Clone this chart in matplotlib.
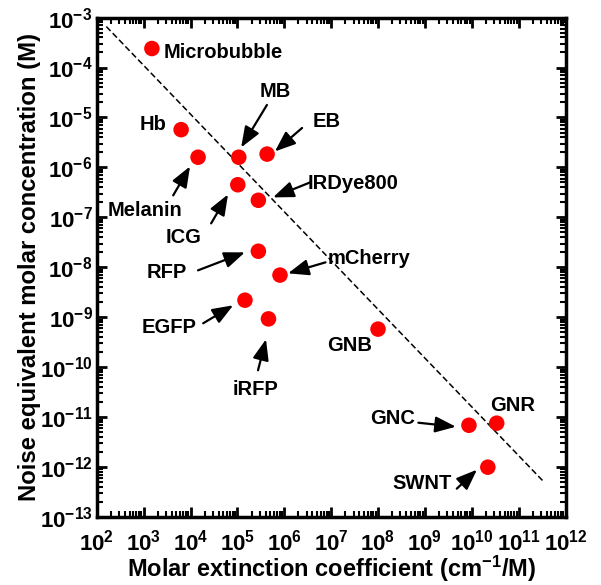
import numpy as np
import matplotlib
matplotlib.use("Agg")
import matplotlib.pyplot as plt
from matplotlib.ticker import LogLocator, FuncFormatter, NullFormatter

plt.rcParams["font.family"] = ["Liberation Sans", "DejaVu Sans"]
plt.rcParams["font.weight"] = "bold"
plt.rcParams["mathtext.fontset"] = "custom"
plt.rcParams["mathtext.rm"] = "Liberation Sans:bold"
plt.rcParams["mathtext.bf"] = "Liberation Sans:bold"
plt.rcParams["mathtext.it"] = "Liberation Sans:bold"
plt.rcParams["mathtext.default"] = "bf"

# ── DATA ────────────────────────────────────────────────────────────────
names = ["Microbubble", "Hb", "Melanin", "MB", "EB", "ICG", "IRDye800", "RFP",
         "mCherry", "EGFP", "iRFP", "GNB", "GNC", "GNR", "SWNT"]
extinction = [1.5e3, 6.3e3, 1.45e4, 1.07e5, 4.3e5, 1.02e5, 2.8e5, 2.8e5,
              8.1e5, 1.45e5, 4.6e5, 1.0e8, 8.7e9, 3.4e10, 2.2e10]
nec = [2.4e-4, 5.7e-6, 1.6e-6, 1.6e-6, 1.85e-6, 4.5e-7, 2.2e-7, 2.1e-8,
       7.0e-9, 2.2e-9, 9.3e-10, 5.8e-10, 6.9e-12, 7.6e-12, 1.0e-12]

# dashed trend line end points
trend_x = [1.6e2, 3.5e11]
trend_y = [6.6e-4, 5.0e-13]

# label positions (log10 x, log10 y, horizontal alignment)
label_pos = {
    "Microbubble": (3.42, -3.69, "left"),
    "Hb":          (3.48, -5.15, "right"),
    "Melanin":     (3.03, -6.86, "center"),
    "MB":          (5.80, -4.49, "center"),
    "EB":          (6.61, -5.09, "left"),
    "ICG":         (3.86, -7.40, "center"),
    "IRDye800":    (6.50, -6.32, "left"),
    "RFP":         (3.50, -8.10, "center"),
    "mCherry":     (6.93, -7.82, "left"),
    "EGFP":        (3.55, -9.20, "center"),
    "iRFP":        (5.38, -10.44, "center"),
    "GNB":         (7.39, -9.56, "center"),
    "GNC":         (8.79, -11.03, "right"),
    "GNR":         (10.88, -10.77, "center"),
    "SWNT":        (8.95, -12.33, "center"),
}

# arrows: (tail log x, tail log y, tip log x, tip log y)
arrows = {
    "MB":       (5.63, -4.75, 5.08, -5.60),
    "EB":       (6.38, -5.21, 5.80, -5.68),
    "Melanin":  (3.63, -6.56, 3.99, -5.98),
    "ICG":      (4.44, -7.12, 4.80, -6.54),
    "IRDye800": (6.55, -6.30, 5.76, -6.60),
    "RFP":      (4.16, -8.06, 5.16, -7.70),
    "mCherry":  (6.88, -7.90, 6.08, -8.12),
    "EGFP":     (4.27, -9.12, 4.91, -8.76),
    "iRFP":     (5.44, -10.06, 5.61, -9.44),
    "GNC":      (8.86, -11.11, 9.66, -11.19),
    "SWNT":     (9.68, -12.43, 10.11, -12.05),
}

# ── PLOT ────────────────────────────────────────────────────────────────
fig = plt.figure(figsize=(6.01, 5.85), dpi=100)
ax = fig.add_axes([0.161, 0.116, 0.780, 0.854])
ax.set_xscale("log")
ax.set_yscale("log")
ax.set_xlim(1e2, 1e12)
ax.set_ylim(1e-13, 1e-3)

ax.plot(trend_x, trend_y, color="black", linestyle=(0, (4, 2)), linewidth=1.1, zorder=2)
ax.scatter(extinction, nec, s=125, color="#ff0000", edgecolors="none", zorder=3)

for name in names:
    lx, ly, ha = label_pos[name]
    ax.text(10**lx, 10**ly, name, ha=ha, va="center", fontsize=14.5,
            fontweight="bold", zorder=4)

for name, (tx, ty, hx, hy) in arrows.items():
    ax.annotate("", xy=(10**hx, 10**hy), xytext=(10**tx, 10**ty),
                arrowprops=dict(arrowstyle="-|>,head_length=0.9,head_width=0.35",
                                color="black", lw=1.6,
                                mutation_scale=14, shrinkA=0, shrinkB=0))

def fmt(v, pos):
    return r"$\mathbf{10^{%d}}$" % int(round(np.log10(v)))

for axis in (ax.xaxis, ax.yaxis):
    axis.set_major_locator(LogLocator(base=10, numticks=20))
    axis.set_minor_locator(LogLocator(base=10, subs=np.arange(2, 10), numticks=20))
    axis.set_major_formatter(FuncFormatter(fmt))
    axis.set_minor_formatter(NullFormatter())

ax.tick_params(which="both", direction="in", top=True, right=True, width=2)
ax.tick_params(which="major", length=7, labelsize=16)
ax.tick_params(which="minor", length=4, width=1.5)
ax.tick_params(axis="x", which="major", pad=9)
ax.tick_params(axis="y", which="major", pad=3)
for sp in ax.spines.values():
    sp.set_linewidth(2.5)

ax.set_xlabel(r"Molar extinction coefficient (cm$^{-1}$/M)", fontsize=17,
              fontweight="bold")
ax.set_ylabel("Noise equivalent molar concentration (M)", fontsize=17.2,
              fontweight="bold")
ax.xaxis.set_label_coords(0.5, -0.074)
ax.yaxis.set_label_coords(-0.12, 0.5)

fig.savefig("out.png", dpi=100)
